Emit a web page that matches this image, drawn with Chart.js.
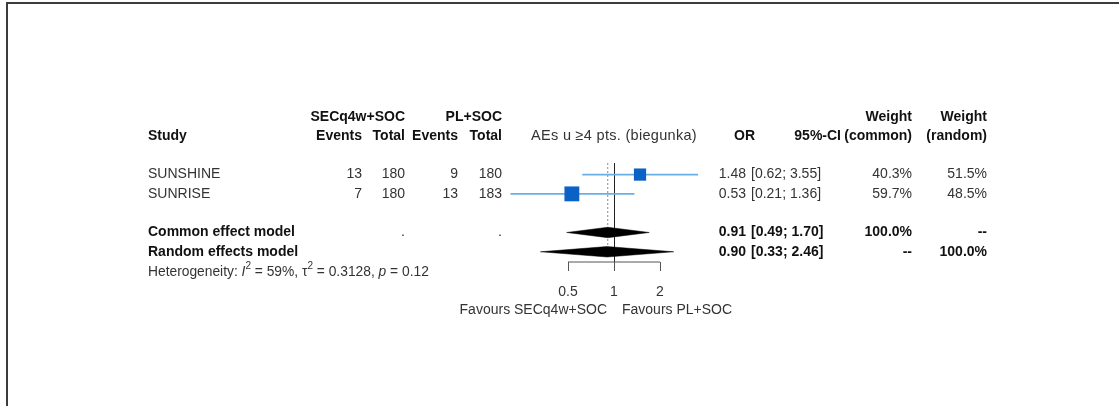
<!DOCTYPE html>
<html>
<head>
<meta charset="utf-8">
<script src="https://cdn.jsdelivr.net/npm/chart.js@4.4.1/dist/chart.umd.min.js"></script>
<style>
  html, body { margin: 0; padding: 0; background: #fff; }
  #wrap { position: relative; width: 1119px; height: 406px; overflow: hidden; }
  #frame { position: absolute; left: 6px; top: 2px; right: -10px; bottom: -10px;
           border-top: 2px solid #3c3c3c; border-left: 2px solid #3c3c3c; }
  canvas { position: absolute; left: 0; top: 0; }
</style>
</head>
<body>
<div id="wrap">
  <div id="frame"></div>
  <canvas id="forest" width="1119" height="406"></canvas>
</div>
<script>
// study rows
var studies = ['SUNSHINE', 'SUNRISE'];
var eventsTrt = [13, 7];
var totalTrt = [180, 180];
var eventsCtl = [9, 13];
var totalCtl = [180, 183];
var oddsRatio = [1.48, 0.53];
var ciLower = [0.62, 0.21];
var ciUpper = [3.55, 1.36];
var weightCommon = [40.3, 59.7];
var weightRandom = [51.5, 48.5];

// pooled rows
var pooledLabels = ['Common effect model', 'Random effects model'];
var pooledOR = [0.91, 0.90];
var pooledLower = [0.49, 0.33];
var pooledUpper = [1.70, 2.46];
var pooledWeightCommon = ['100.0%', '--'];
var pooledWeightRandom = ['--', '100.0%'];

var tickValues = [0.5, 1, 2];

// row slots on the y axis (1 = first study)
var studyRows = [1, 2];
var pooledRows = [4, 5];

var FONT = "'Liberation Sans', Arial, sans-serif";
var DIAMOND_H = 0.27;
var Y_MIN = 0.4, Y_MAX = 5.53;

var datasets = [];

// study squares, area by common weight
datasets.push({
  label: 'OR',
  data: studies.map(function (s, i) { return { x: oddsRatio[i], y: studyRows[i] }; }),
  pointStyle: 'rect',
  pointRadius: weightCommon.map(function (w) { return 1.36 * Math.sqrt(w); }),
  backgroundColor: '#0b62c6',
  borderColor: '#0b62c6',
  borderWidth: 0,
  clip: false,
  order: 0
});

studies.forEach(function (s, i) {
  datasets.push({
    type: 'line',
    label: s + ' CI',
    data: [{ x: ciLower[i], y: studyRows[i] }, { x: ciUpper[i], y: studyRows[i] }],
    borderColor: '#6aaee4',
    borderWidth: 1.6,
    pointRadius: 0,
    fill: false,
    clip: false,
    order: 2
  });
});

pooledLabels.forEach(function (s, i) {
  var r = pooledRows[i];
  datasets.push({
    type: 'line',
    label: s,
    data: [
      { x: pooledLower[i], y: r },
      { x: pooledOR[i], y: r - DIAMOND_H },
      { x: pooledUpper[i], y: r },
      { x: pooledOR[i], y: r + DIAMOND_H },
      { x: pooledLower[i], y: r }
    ],
    borderColor: '#000',
    borderWidth: 0.5,
    backgroundColor: '#000',
    pointRadius: 0,
    tension: 0,
    fill: 'shape',
    clip: false,
    order: 1
  });
});

// dotted line at the common effect estimate
datasets.push({
  type: 'line',
  label: 'common estimate',
  data: [{ x: pooledOR[0], y: Y_MIN }, { x: pooledOR[0], y: pooledRows[1] }],
  borderColor: '#8a8a8a',
  borderWidth: 1,
  borderDash: [2, 2],
  pointRadius: 0,
  fill: false,
  order: 3
});

// axis line only across the labelled ticks
datasets.push({
  type: 'line',
  label: 'axis',
  data: [{ x: tickValues[0], y: Y_MAX }, { x: tickValues[tickValues.length - 1], y: Y_MAX }],
  borderColor: '#555',
  borderWidth: 1,
  pointRadius: 0,
  fill: false,
  clip: false,
  order: 4
});

var tablePlugin = {
  id: 'forestTable',
  afterDraw: function (chart) {
    var ctx = chart.ctx;
    var ys = chart.scales.y;
    var xs = chart.scales.x;

    function put(str, x, row, align, bold, size, spacing) {
      ctx.save();
      ctx.font = (bold ? 'bold ' : '') + (size || 14) + 'px ' + FONT;
      ctx.fillStyle = bold ? '#111' : '#333';
      ctx.textAlign = align || 'left';
      ctx.textBaseline = 'middle';
      if (spacing) ctx.letterSpacing = spacing;
      ctx.fillText(str, x, typeof row === 'number' ? ys.getPixelForValue(row) : row.px);
      ctx.restore();
    }

    // headers
    put('SECq4w+SOC', 405, -2, 'right', true);
    put('PL+SOC', 502, -2, 'right', true);
    put('Weight', 912, -2, 'right', true);
    put('Weight', 987, -2, 'right', true);

    put('Study', 148, -1, 'left', true);
    put('Events', 362, -1, 'right', true);
    put('Total', 405, -1, 'right', true);
    put('Events', 458, -1, 'right', true);
    put('Total', 502, -1, 'right', true);
    put('AEs u \u22654 pts. (biegunka)', xs.getPixelForValue(1), -1, 'center', false, 14.5, '0.3px');
    put('OR', 755, -1, 'right', true);
    put('95%-CI', 841, -1, 'right', true);
    put('(common)', 912, -1, 'right', true);
    put('(random)', 987, -1, 'right', true);

    // studies
    studies.forEach(function (s, i) {
      var r = studyRows[i];
      put(s, 148, r, 'left');
      put(String(eventsTrt[i]), 362, r, 'right');
      put(String(totalTrt[i]), 405, r, 'right');
      put(String(eventsCtl[i]), 458, r, 'right');
      put(String(totalCtl[i]), 502, r, 'right');
      put(oddsRatio[i].toFixed(2), 746, r, 'right');
      put('[' + ciLower[i].toFixed(2) + '; ' + ciUpper[i].toFixed(2) + ']', 751, r, 'left');
      put(weightCommon[i].toFixed(1) + '%', 912, r, 'right');
      put(weightRandom[i].toFixed(1) + '%', 987, r, 'right');
    });

    // pooled
    pooledLabels.forEach(function (s, i) {
      var r = pooledRows[i];
      put(s, 148, r, 'left', true);
      put(pooledOR[i].toFixed(2), 746, r, 'right', true);
      put('[' + pooledLower[i].toFixed(2) + '; ' + pooledUpper[i].toFixed(2) + ']', 751, r, 'left', true);
      put(pooledWeightCommon[i], 912, r, 'right', true);
      put(pooledWeightRandom[i], 987, r, 'right', true);
    });
    put('.', 405, pooledRows[0], 'right');
    put('.', 502, pooledRows[0], 'right');

    // heterogeneity line, mixed styles
    var parts = [
      ['Heterogeneity: ', ''], ['I', 'italic '], ['2', 'sup'], [' = 59%, ', ''],
      ['\u03c4', ''], ['2', 'sup'], [' = 0.3128, ', ''], ['p', 'italic '], [' = 0.12', '']
    ];
    var hy = ys.getPixelForValue(6.05);
    var hx = 148;
    ctx.save();
    ctx.fillStyle = '#333';
    ctx.textBaseline = 'middle';
    ctx.textAlign = 'left';
    parts.forEach(function (p) {
      if (p[1] === 'sup') {
        ctx.font = '10px ' + FONT;
        ctx.fillText(p[0], hx, hy - 6);
      } else {
        ctx.font = p[1] + '13.8px ' + FONT;
        ctx.fillText(p[0], hx, hy);
      }
      hx += ctx.measureText(p[0]).width;
    });
    ctx.restore();

    // favours labels under the axis
    var fy = { px: chart.chartArea.bottom + 48 };
    put('Favours SECq4w+SOC', xs.getPixelForValue(1) - 7, fy, 'right');
    put('Favours PL+SOC', xs.getPixelForValue(1) + 8, fy, 'left');
  }
};

new Chart(document.getElementById('forest'), {
  type: 'scatter',
  data: { datasets: datasets },
  plugins: [tablePlugin],
  options: {
    responsive: false,
    animation: false,
    devicePixelRatio: 1,
    layout: {
      padding: { left: 476, right: 367, top: 163, bottom: 94 }
    },
    plugins: {
      legend: { display: false },
      tooltip: { enabled: false }
    },
    scales: {
      x: {
        type: 'logarithmic',
        position: 'bottom',
        min: 0.125,
        max: 8,
        afterBuildTicks: function (scale) {
          scale.ticks = tickValues.map(function (v) { return { value: v }; });
        },
        afterFit: function (scale) { scale.height = 50; },
        grid: {
          display: true,
          drawOnChartArea: true,
          drawTicks: true,
          tickLength: 9,
          color: function (c) { return c.tick && c.tick.value === 1 ? '#222' : 'rgba(0,0,0,0)'; },
          tickColor: '#555',
          lineWidth: 1
        },
        border: { display: false },
        ticks: {
          autoSkip: false,
          maxRotation: 0,
          padding: 13,
          color: '#333',
          font: { size: 14, family: FONT },
          callback: function (v) { return String(v); }
        }
      },
      y: {
        type: 'linear',
        display: false,
        reverse: true,
        min: Y_MIN,
        max: Y_MAX
      }
    }
  }
});
</script>
</body>
</html>
